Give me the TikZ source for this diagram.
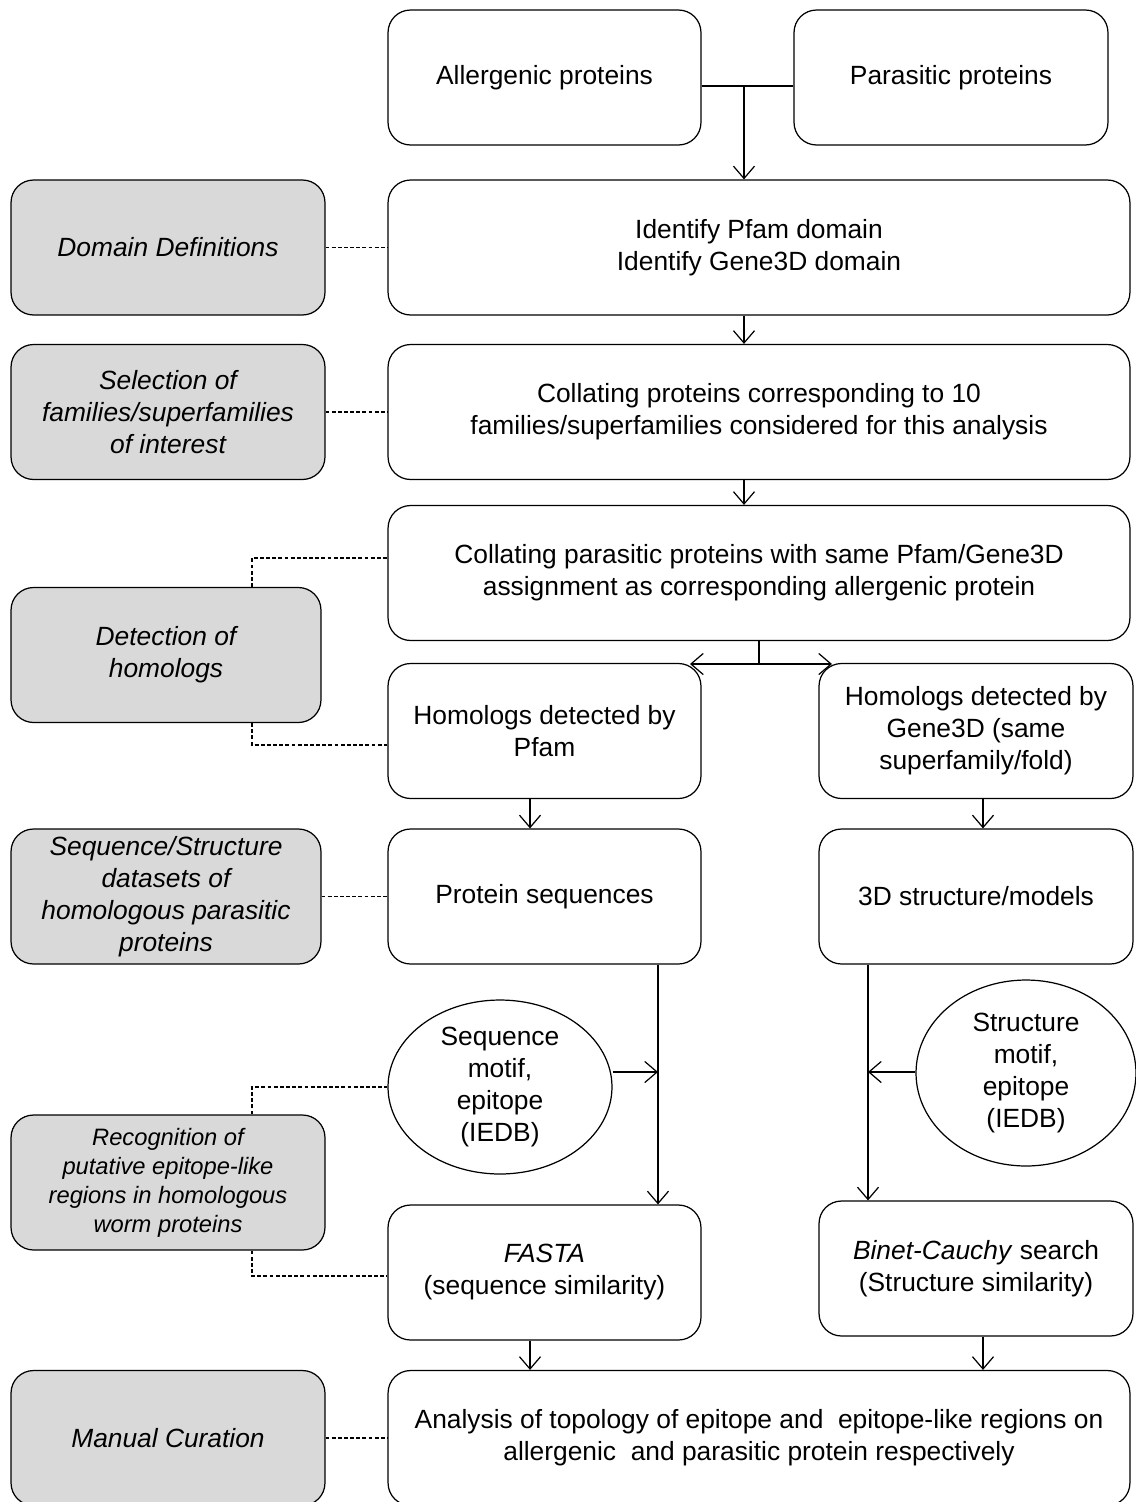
\documentclass[tikz,border=0pt]{standalone}
\usepackage{fontspec}
\setmainfont{Liberation Sans}
\usetikzlibrary{shapes.geometric,arrows.meta}

\begin{document}
\begin{tikzpicture}[x=0.02cm,y=-0.02cm,line width=0.7pt,
  >={Straight Barb[length=7pt,width=12pt]},
  sbox/.style={draw,rounded corners=0.45cm,minimum width=6.26cm,minimum height=2.7cm,align=center,inner sep=2pt,font=\fontsize{15}{18.2}\selectfont},
  wbox/.style={sbox,minimum width=14.84cm},
  gbox/.style={sbox,fill=black!15,font=\fontsize{15}{18.2}\selectfont\itshape},
  motif/.style={draw,ellipse,inner sep=0pt,align=center,font=\fontsize{15}{18.2}\selectfont},
  link/.style={line width=0.6pt,dash pattern=on 2.2pt off 1.3pt}]
\useasboundingbox (0,0) rectangle (1136,1502);
% top row
\node[sbox] (alg) at (544.5,77.5) {Allergenic proteins};
\node[sbox,minimum width=6.28cm] (par) at (951,77.5) {Parasitic proteins};
\node[wbox] (ident) at (759,247.5) {Identify Pfam domain\\Identify Gene3D domain};
\node[wbox] (coll) at (759,412) {Collating proteins corresponding to 10\\families/superfamilies considered for this analysis};
\node[wbox] (colpar) at (759,573) {Collating parasitic proteins with same Pfam/Gene3D\\assignment as corresponding allergenic protein};
\node[sbox] (hpfam) at (544.5,731) {Homologs detected by\\Pfam};
\node[sbox,minimum width=6.28cm] (hgene) at (976,731) {Homologs detected by\\Gene3D (same\\superfamily/fold)};
\node[sbox] (protseq) at (544.5,896.5) {Protein sequences};
\node[sbox,minimum width=6.28cm] (struct) at (976,896.5) {3D structure/models};
\node[motif,minimum width=4.48cm,minimum height=3.48cm] (seqmotif) at (500,1087) {Sequence\\motif,\\epitope\\(IEDB)};
\node[motif,minimum width=4.4cm,minimum height=3.72cm] (strmotif) at (1026,1073) {Structure\\motif,\\epitope\\(IEDB)};
\node[sbox] (fasta) at (544.5,1272.5) {\textit{FASTA}\\(sequence similarity)};
\node[sbox,minimum width=6.28cm] (binet) at (976,1268.5) {\textit{Binet-Cauchy} search\\(Structure similarity)};
\node[wbox] (anal) at (759,1438) {Analysis of topology of epitope and\ \ epitope-like regions on\\allergenic\ \ and parasitic protein respectively};
% grey boxes on the left
\node[gbox,minimum width=6.28cm] (dom) at (168,247.5) {Domain Definitions};
\node[gbox,minimum width=6.28cm] (sel) at (168,412) {Selection of\\families/superfamilies\\of interest};
\node[gbox,minimum width=6.2cm] (det) at (166,655) {Detection of\\homologs};
\node[gbox,minimum width=6.2cm] (seqstr) at (166,896.5) {Sequence/Structure\\datasets of\\homologous parasitic\\proteins};
\node[gbox,minimum width=6.28cm,font=\fontsize{13.5}{16.5}\selectfont\itshape] (recog) at (168,1182.5) {Recognition of\\putative epitope-like\\regions in homologous\\worm proteins};
\node[gbox,minimum width=6.28cm] (man) at (168,1438) {Manual Curation};
% arrows
\coordinate (j1) at (744,86);
\draw (alg.east |- j1) -- (par.west |- j1);
\draw[->] (j1) -- (j1 |- ident.north);
\draw[->] (ident.south -| j1) -- (coll.north -| j1);
\draw[->] (coll.south -| j1) -- (colpar.north -| j1);
\coordinate (br) at (759,664);
\coordinate (bl) at (690,664);
\coordinate (bR) at (832,664);
\draw (colpar.south) -- (br);
\draw[<->] (bl) -- (bR);
\draw[->] ([xshift=-0.29cm]hpfam.south) -- ([xshift=-0.29cm]protseq.north);
\draw[->] ([xshift=0.14cm]hgene.south) -- ([xshift=0.14cm]struct.north);
\draw[->] ([xshift=2.27cm]protseq.south) -- ([xshift=2.27cm]fasta.north);
\draw[->] ([xshift=-2.16cm]struct.south) -- ([xshift=-2.16cm]binet.north);
\coordinate (m1) at (658,1072);
\coordinate (m2) at (868,1072);
\draw[->] (seqmotif.east |- m1) -- (m1);
\draw[->] (strmotif.west |- m2) -- (m2);
\draw[->] ([xshift=-0.29cm]fasta.south) -- ([xshift=-0.29cm]anal.north -| fasta.south);
\draw[->] ([xshift=0.14cm]binet.south) -- ([xshift=0.14cm]anal.north -| binet.south);
% dashed links
\draw[link] (dom.east) -- (ident.west);
\draw[link] (sel.east) -- (coll.west);
\draw[link] ([xshift=1.72cm]det.north) |- ([yshift=0.3cm]colpar.west);
\draw[link] ([xshift=1.72cm]det.south) |- ([yshift=-0.28cm]hpfam.west);
\draw[link] (seqstr.east) -- (protseq.west);
\draw[link] ([xshift=1.68cm]recog.north) |- (seqmotif.west);
\draw[link] ([xshift=1.68cm]recog.south) |- ([yshift=-0.07cm]fasta.west);
\draw[link] (man.east) -- (anal.west);
\end{tikzpicture}
\end{document}
